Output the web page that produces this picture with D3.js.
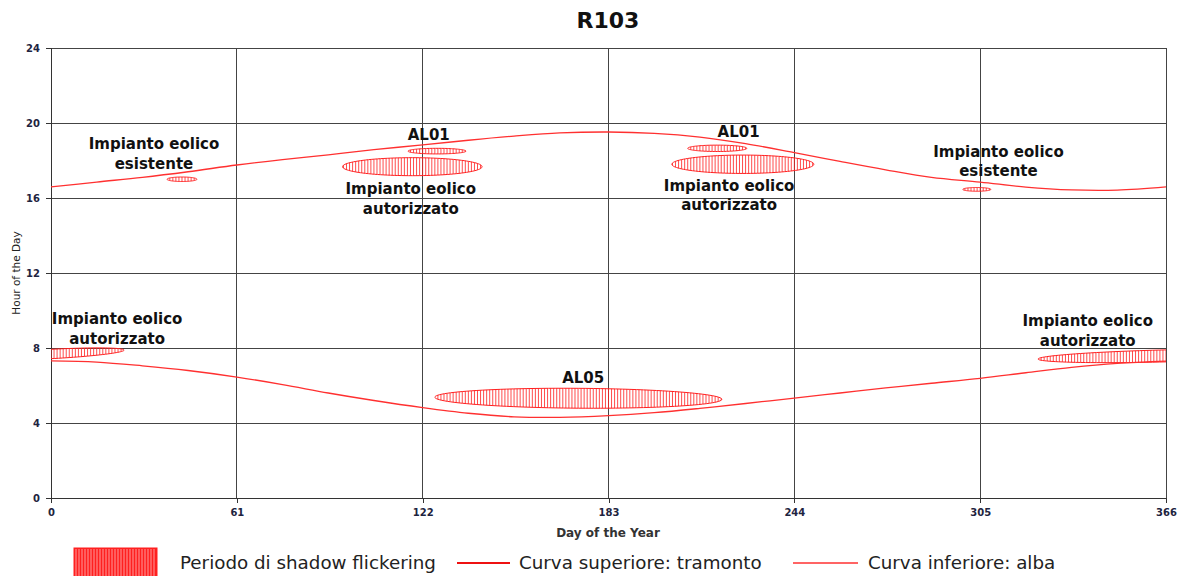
<!DOCTYPE html>
<html>
<head>
<meta charset="utf-8">
<script src="https://cdn.jsdelivr.net/npm/d3@7"></script>
<style>
  html, body { margin: 0; padding: 0; background: #fff; }
  svg { display: block; }
</style>
</head>
<body>
<svg id="chart" width="1181" height="576"></svg>
<script>
// Sunset (upper) and sunrise (lower) times across the year
const sunDays     = [0, 15, 30, 45, 61, 76, 91, 106, 122, 137, 152, 167, 183, 198, 213, 228, 244, 259, 274, 289, 305, 320, 335, 350, 366];
const sunsetHour  = [16.59, 16.85, 17.1, 17.4, 17.76, 18.05, 18.3, 18.58, 18.83, 19.08, 19.3, 19.47, 19.52, 19.45, 19.25, 18.9, 18.42, 17.95, 17.5, 17.1, 16.85, 16.58, 16.43, 16.42, 16.59];
const sunriseHour = [7.31, 7.25, 7.05, 6.8, 6.45, 6.05, 5.6, 5.2, 4.82, 4.52, 4.33, 4.3, 4.39, 4.55, 4.78, 5.04, 5.33, 5.6, 5.87, 6.12, 6.38, 6.68, 6.97, 7.18, 7.3];

// Shadow flickering periods: centre day, half-span (days), centre hour, half-height (hours), drift (hours/day)
const flickerDay   = [43, 126.7, 118.6, 218.7, 227.1, 303.9, 0, 366, 173.1];
const flickerSpan  = [4.9, 9.5, 22.9, 9.7, 23.3, 4.6, 24, 42, 47.1];
const flickerHour  = [17.0, 18.5, 17.67, 18.65, 17.8, 16.46, 7.68, 7.58, 5.32];
const flickerHalf  = [0.12, 0.15, 0.48, 0.17, 0.49, 0.1, 0.25, 0.32, 0.53];
const flickerDrift = [0, 0, 0, 0, 0, 0, 0.0087, 0.004, -0.0012];

// Source labels: text lines, centre day, baseline hour of the first line
const labelLines = [
  ["Impianto eolico", "esistente"],
  ["AL01"],
  ["Impianto eolico", "autorizzato"],
  ["AL01"],
  ["Impianto eolico", "autorizzato"],
  ["Impianto eolico", "esistente"],
  ["Impianto eolico", "autorizzato"],
  ["Impianto eolico", "autorizzato"],
  ["AL05"]
];
const labelDay  = [33.8, 124, 118.1, 225.7, 222.6, 311, 21.7, 340.3, 174.7];
const labelHour = [18.6, 19.09, 16.21, 19.27, 16.39, 18.2, 9.28, 9.17, 6.12];

const xTicks = [0, 61, 122, 183, 244, 305, 366];
const yTicks = [0, 4, 8, 12, 16, 20, 24];

const legendLabels = ["Periodo di shadow flickering", "Curva superiore: tramonto", "Curva inferiore: alba"];

const svg = d3.select("#chart");
const x = d3.scaleLinear().domain([0, 366]).range([51, 1166]);
const y = d3.scaleLinear().domain([0, 24]).range([498, 48]);

const RED = "#ff2020";

// title
svg.append("text")
  .attr("x", 608).attr("y", 28)
  .attr("text-anchor", "middle")
  .attr("font-family", "DejaVu Sans, sans-serif")
  .attr("font-weight", "bold")
  .attr("font-size", 22)
  .attr("fill", "#111")
  .text("R103");

// grid
const grid = svg.append("g");
grid.selectAll("line.v").data(xTicks).join("line")
  .attr("x1", d => x(d)).attr("x2", d => x(d))
  .attr("y1", y(24)).attr("y2", y(0))
  .attr("stroke", "#444").attr("stroke-width", 1)
  .attr("shape-rendering", "crispEdges");
grid.selectAll("line.h").data(yTicks).join("line")
  .attr("x1", x(0)).attr("x2", x(366))
  .attr("y1", d => y(d)).attr("y2", d => y(d))
  .attr("stroke", "#444").attr("stroke-width", 1)
  .attr("shape-rendering", "crispEdges");

// axes
const xAxis = d3.axisBottom(x).tickValues(xTicks).tickSize(5).tickPadding(6).tickFormat(d3.format("d"));
const yAxis = d3.axisLeft(y).tickValues(yTicks).tickSize(5).tickPadding(6).tickFormat(d3.format("d"));
const gx = svg.append("g").attr("transform", `translate(0,${y(0)})`).call(xAxis);
const gy = svg.append("g").attr("transform", `translate(${x(0)},0)`).call(yAxis);
[gx, gy].forEach(g => {
  g.select(".domain").attr("stroke", "#333").attr("shape-rendering", "crispEdges");
  g.selectAll(".tick line").attr("stroke", "#333").attr("shape-rendering", "crispEdges");
  g.selectAll(".tick text")
    .attr("font-family", "DejaVu Sans, sans-serif")
    .attr("font-weight", "bold")
    .attr("font-size", 10)
    .attr("fill", "#1e2440");
});

svg.append("text")
  .attr("x", 608).attr("y", 537)
  .attr("text-anchor", "middle")
  .attr("font-family", "DejaVu Sans, sans-serif")
  .attr("font-weight", "bold")
  .attr("font-size", 12)
  .attr("fill", "#333")
  .text("Day of the Year");

svg.append("text")
  .attr("transform", `translate(20,${y(12)}) rotate(-90)`)
  .attr("text-anchor", "middle")
  .attr("font-family", "DejaVu Sans, sans-serif")
  .attr("font-size", 10.5)
  .attr("fill", "#222")
  .text("Hour of the Day");

// clip to the plotting area
svg.append("clipPath").attr("id", "plotClip")
  .append("rect")
  .attr("x", x(0)).attr("y", y(24))
  .attr("width", x(366) - x(0)).attr("height", y(0) - y(24));

const plot = svg.append("g").attr("clip-path", "url(#plotClip)");

// shadow flickering periods: one vertical stroke per day plus outline
const shapes = flickerDay.map((cx, i) => ({
  cx, rx: flickerSpan[i], cy: flickerHour[i], ry: flickerHalf[i], k: flickerDrift[i]
}));

const outline = d3.line().x(p => x(p[0])).y(p => y(p[1])).curve(d3.curveLinearClosed);

shapes.forEach(s => {
  const g = plot.append("g");
  const days = d3.range(Math.ceil(s.cx - s.rx), Math.floor(s.cx + s.rx) + 1)
    .filter(d => d >= 0 && d <= 366);
  const half = d => {
    const u = (d - s.cx) / s.rx;
    return s.ry * Math.sqrt(Math.max(0, 1 - u * u));
  };
  g.selectAll("line").data(days).join("line")
    .attr("x1", d => x(d)).attr("x2", d => x(d))
    .attr("y1", d => y(s.cy + s.k * (d - s.cx) + half(d)))
    .attr("y2", d => y(s.cy + s.k * (d - s.cx) - half(d)))
    .attr("stroke", RED).attr("stroke-width", 1).attr("stroke-opacity", 0.8);
  const pts = d3.range(0, 360, 3).map(a => {
    const t = a * Math.PI / 180;
    const d = s.cx + s.rx * Math.cos(t);
    return [d, s.cy + s.k * (d - s.cx) + s.ry * Math.sin(t)];
  });
  g.append("path").attr("d", outline(pts))
    .attr("fill", "none").attr("stroke", RED).attr("stroke-width", 1);
});

// sunset / sunrise curves
const curve = d3.line().x((d, i) => x(sunDays[i])).y(d => y(d)).curve(d3.curveCatmullRom.alpha(0.5));
plot.append("path").datum(sunsetHour).attr("d", curve)
  .attr("fill", "none").attr("stroke", "#ff3030").attr("stroke-width", 1.3);
plot.append("path").datum(sunriseHour).attr("d", curve)
  .attr("fill", "none").attr("stroke", "#ff3030").attr("stroke-width", 1.3);

// labels
const labels = svg.append("g")
  .attr("font-family", "DejaVu Sans, sans-serif")
  .attr("font-weight", "bold")
  .attr("font-size", 15)
  .attr("fill", "#111")
  .attr("text-anchor", "middle");
labelLines.forEach((lines, i) => {
  const t = labels.append("text")
    .attr("x", x(labelDay[i])).attr("y", y(labelHour[i]));
  lines.forEach((ln, j) => {
    t.append("tspan").attr("x", x(labelDay[i])).attr("dy", j === 0 ? 0 : 19.5).text(ln);
  });
});

// legend
const lg = svg.append("g");
lg.append("rect").attr("x", 74).attr("y", 548).attr("width", 83).attr("height", 30)
  .attr("fill", RED).attr("stroke", RED);
lg.selectAll("line.hatch").data(d3.range(76, 156, 3)).join("line")
  .attr("x1", d => d).attr("x2", d => d).attr("y1", 549).attr("y2", 576)
  .attr("stroke", "#fff").attr("stroke-width", 1).attr("stroke-opacity", 0.55);

lg.append("line").attr("x1", 457).attr("x2", 510).attr("y1", 563).attr("y2", 563)
  .attr("stroke", "#ee1111").attr("stroke-width", 2);
lg.append("line").attr("x1", 793).attr("x2", 858).attr("y1", 563).attr("y2", 563)
  .attr("stroke", "#ff3030").attr("stroke-width", 1.5);

const legendX = [180, 519, 868];
lg.selectAll("text").data(legendLabels).join("text")
  .attr("x", (d, i) => legendX[i]).attr("y", 569)
  .attr("font-family", "DejaVu Sans, sans-serif")
  .attr("font-size", 18.3)
  .attr("fill", "#222")
  .text(d => d);
</script>
</body>
</html>
